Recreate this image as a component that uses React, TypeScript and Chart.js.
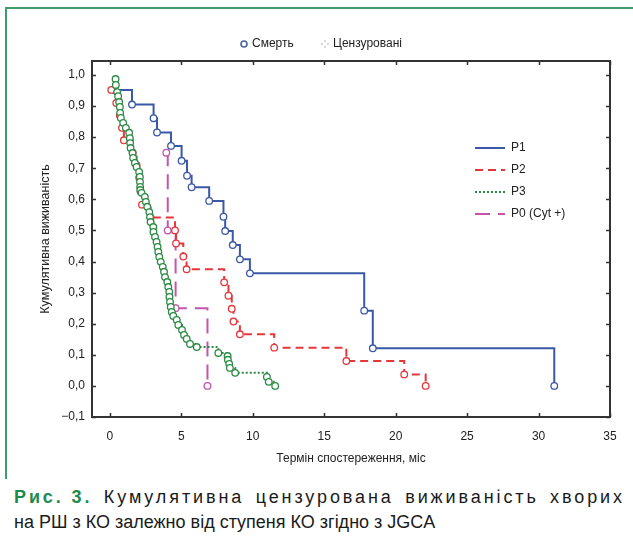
import React, { useEffect, useRef } from "react";
import { Chart, registerables } from "chart.js";

Chart.register(...registerables);

const xTicks = [0, 5, 10, 15, 20, 25, 30, 35];
const yTicks = [-0.1, 0, 0.1, 0.2, 0.3, 0.4, 0.5, 0.6, 0.7, 0.8, 0.9, 1.0];

const seriesNames = ["P1", "P2", "P3", "P0 (Cyt +)"];

const p1T = [0.3, 1.55, 3.06, 3.3, 4.28, 5.02, 5.4, 5.72, 6.95, 7.95, 8.07, 8.6, 9.1, 9.8, 17.8, 18.4, 31.1];
const p1S = [0.952, 0.905, 0.861, 0.815, 0.772, 0.724, 0.676, 0.639, 0.595, 0.544, 0.498, 0.453, 0.407, 0.362, 0.242, 0.121, 0];

const p2T = [0.1, 0.45, 0.7, 0.85, 0.98, 1.6, 1.87, 2.05, 2.15, 2.25, 2.85, 4.56, 4.63, 5.14, 5.37, 8.0, 8.3, 8.53, 8.65, 9.1, 11.5, 16.55, 20.6, 22.1];
const p2S = [0.952, 0.91, 0.87, 0.83, 0.79, 0.75, 0.71, 0.67, 0.625, 0.583, 0.542, 0.5, 0.458, 0.416, 0.375, 0.333, 0.29, 0.248, 0.207, 0.166, 0.123, 0.08, 0.037, 0];

const p3T = [0.4, 0.42, 0.51, 0.58, 0.65, 0.7, 0.72, 0.77, 0.93, 1.12, 1.35, 1.4, 1.42, 1.45, 1.59, 1.63, 1.75, 1.87, 2.05, 2.1, 2.11, 2.12, 2.13, 2.22, 2.45, 2.52, 2.62, 2.76, 2.81, 2.85, 3.04, 3.05, 3.16, 3.27, 3.34, 3.39, 3.46, 3.56, 3.7, 3.79, 3.86, 4.02, 4.09, 4.16, 4.17, 4.21, 4.26, 4.33, 4.44, 4.68, 4.79, 5.05, 5.19, 5.38, 5.61, 6.08, 7.59, 8.24, 8.26, 8.35, 8.4, 8.77, 10.99, 11.12, 11.57];
const p3S = [0.987, 0.968, 0.945, 0.932, 0.913, 0.897, 0.878, 0.862, 0.846, 0.83, 0.814, 0.797, 0.781, 0.765, 0.749, 0.733, 0.717, 0.704, 0.688, 0.672, 0.656, 0.64, 0.63, 0.621, 0.608, 0.592, 0.576, 0.559, 0.543, 0.527, 0.511, 0.495, 0.479, 0.463, 0.447, 0.431, 0.415, 0.399, 0.383, 0.367, 0.35, 0.334, 0.318, 0.302, 0.286, 0.27, 0.254, 0.238, 0.225, 0.212, 0.196, 0.18, 0.164, 0.151, 0.135, 0.125, 0.106, 0.096, 0.084, 0.071, 0.058, 0.042, 0.029, 0.013, 0];

const p0T = [3.95, 4.05, 4.6, 6.83];
const p0S = [0.75, 0.5, 0.25, 0];

const captionLead = "Рис. 3.";
const captionLine1 = ["Кумулятивна", "цензурована", "виживаність", "хворих"];
const captionLine2 = "на РШ з КО залежно від ступеня КО згідно з JGCA";

const colors = ["#3a58a6", "#e5363c", "#2d8a45", "#c355ab"];
const dashes: number[][] = [[], [8, 5], [2, 2], [15, 8]];

const FONT = "'Liberation Sans', Arial, sans-serif";
const TEXT = "#222";

function pts(t: number[], s: number[]) {
  return t.map((v, i) => ({ x: v, y: s[i] }));
}

const fmtY = (v: number) => {
  const s = Math.abs(v).toFixed(1).replace(".", ",");
  return v < -1e-9 ? "\u2212" + s : s;
};

const decor = {
  id: "decor",
  afterDatasetsDraw(chart: any) {
    const { ctx, chartArea: a, scales } = chart;
    ctx.save();
    ctx.strokeStyle = "#333";
    ctx.lineWidth = 2;
    ctx.setLineDash([]);
    ctx.strokeRect(a.left, a.top, a.right - a.left, a.bottom - a.top);
    ctx.lineWidth = 1.5;
    const tl = 4;
    xTicks.forEach((v) => {
      const px = Math.round(scales.x.getPixelForValue(v)) + 0.5;
      ctx.beginPath();
      ctx.moveTo(px, a.bottom);
      ctx.lineTo(px, a.bottom - tl);
      ctx.moveTo(px, a.top);
      ctx.lineTo(px, a.top + tl);
      ctx.stroke();
    });
    yTicks.forEach((v) => {
      const py = Math.round(scales.y.getPixelForValue(v)) + 0.5;
      ctx.beginPath();
      ctx.moveTo(a.left, py);
      ctx.lineTo(a.left + tl, py);
      ctx.moveTo(a.right, py);
      ctx.lineTo(a.right - tl, py);
      ctx.stroke();
    });

    ctx.font = "12px " + FONT;
    ctx.textBaseline = "middle";
    ctx.textAlign = "left";
    const lx0 = 475, lx1 = 505;
    const ly0 = 148, lstep = 22;
    seriesNames.forEach((name, i) => {
      const y = ly0 + i * lstep;
      ctx.strokeStyle = colors[i];
      ctx.lineWidth = 2;
      ctx.setLineDash(dashes[i]);
      ctx.beginPath();
      ctx.moveTo(lx0, y);
      ctx.lineTo(lx1, y);
      ctx.stroke();
      ctx.setLineDash([]);
      ctx.fillStyle = TEXT;
      ctx.fillText(name, 511, y);
    });

    const ty = 44;
    ctx.setLineDash([]);
    ctx.strokeStyle = "#4a6698";
    ctx.fillStyle = "#fff";
    ctx.lineWidth = 1.6;
    ctx.beginPath();
    ctx.arc(244, ty, 3, 0, Math.PI * 2);
    ctx.fill();
    ctx.stroke();
    ctx.fillStyle = TEXT;
    ctx.fillText("Смерть", 252, ty);
    ctx.fillStyle = "#b0b0b0";
    [[-3, 0], [3, 0], [0, -3], [0, 3]].forEach(([dx, dy]) => {
      ctx.fillRect(325 + dx - 0.7, ty + dy - 0.7, 1.4, 1.4);
    });
    ctx.fillStyle = TEXT;
    ctx.fillText("Цензуровані", 333, ty);
    ctx.restore();
  },
};

export default function App() {
  const ref = useRef<HTMLCanvasElement | null>(null);

  useEffect(() => {
    if (!ref.current) return;
    const mk = (i: number, data: any[], order: number) => ({
      label: seriesNames[i],
      data,
      stepped: true as const,
      borderColor: colors[i],
      borderWidth: 2,
      borderDash: dashes[i],
      pointRadius: 3.3,
      pointBorderWidth: 1.3,
      pointBorderColor: colors[i],
      pointBackgroundColor: "#ffffff",
      pointHoverRadius: 3.3,
      fill: false,
      order,
    });
    const chart = new Chart(ref.current, {
      type: "line",
      data: {
        datasets: [
          mk(0, pts(p1T, p1S), 2),
          mk(1, pts(p2T, p2S), 1),
          mk(2, pts(p3T, p3S), 0),
          mk(3, pts(p0T, p0S), 3),
        ],
      },
      options: {
        animation: false,
        responsive: false,
        devicePixelRatio: 1,
        events: [],
        layout: { padding: { top: 61, right: 23, left: 0, bottom: 0 } },
        plugins: {
          legend: { display: false },
          tooltip: { enabled: false },
        },
        scales: {
          x: {
            type: "linear",
            min: -1.25,
            max: 35,
            afterBuildTicks: (s: any) => {
              s.ticks = xTicks.map((v) => ({ value: v }));
            },
            afterFit: (s: any) => {
              s.height = 63;
            },
            grid: { display: false, drawTicks: false },
            border: { display: false },
            ticks: {
              padding: 12,
              color: TEXT,
              font: { family: FONT, size: 12 },
              maxRotation: 0,
              autoSkip: false,
              callback: (v: any) => String(v),
            },
            title: {
              display: true,
              text: "Термін спостереження, міс",
              color: TEXT,
              font: { family: FONT, size: 12 },
              padding: { top: 0, bottom: 14 },
            },
          },
          y: {
            type: "linear",
            min: -0.1,
            max: 1.045,
            afterBuildTicks: (s: any) => {
              s.ticks = yTicks.map((v) => ({ value: v }));
            },
            afterFit: (s: any) => {
              s.width = 92;
            },
            grid: { display: false, drawTicks: false },
            border: { display: false },
            ticks: {
              padding: 7,
              color: TEXT,
              font: { family: FONT, size: 12 },
              autoSkip: false,
              callback: (v: any) => fmtY(Number(v)),
            },
            title: {
              display: true,
              text: "Кумулятивна виживаність",
              color: TEXT,
              font: { family: FONT, size: 12.5 },
              padding: { top: 38, bottom: 0 },
            },
          },
        },
      },
      plugins: [decor],
    });
    return () => chart.destroy();
  }, []);

  return (
    <div
      style={{
        position: "absolute",
        left: 0,
        top: 0,
        width: 633,
        height: 537,
        background: "#fff",
        overflow: "hidden",
        fontFamily: FONT,
      }}
    >
      <div
        style={{
          position: "absolute",
          left: 5,
          top: 7,
          width: 640,
          height: 470,
          borderTop: "2px solid #3f9b6b",
          borderLeft: "2px solid #3f9b6b",
        }}
      />
      <canvas
        ref={ref}
        width={633}
        height={480}
        style={{ position: "absolute", left: 0, top: 0, width: 633, height: 480 }}
      />
      <div
        style={{
          position: "absolute",
          left: 14,
          top: 485,
          width: 611,
          fontSize: 18,
          lineHeight: "25px",
          color: "#1a1a1a",
        }}
      >
        <div
          style={{
            display: "flex",
            justifyContent: "space-between",
            whiteSpace: "nowrap",
            letterSpacing: 2.9,
          }}
        >
          <span style={{ color: "#1e8a4c", fontWeight: "bold" }}>{captionLead}</span>
          {captionLine1.map((w) => (
            <span key={w}>{w}</span>
          ))}
        </div>
        <div style={{ whiteSpace: "nowrap" }}>{captionLine2}</div>
      </div>
    </div>
  );
}
